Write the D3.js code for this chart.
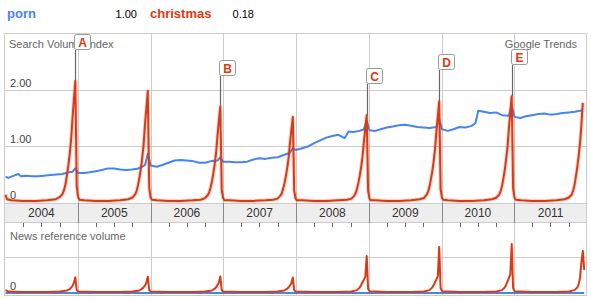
<!DOCTYPE html>
<html><head><meta charset="utf-8">
<script src="https://cdn.jsdelivr.net/npm/d3@7"></script>
<style>body{margin:0;background:#fff}svg{display:block;font-family:"Liberation Sans",Arial,sans-serif}</style>
</head><body>
<svg id="c" width="591" height="299"></svg>
<script>
// ---------- data ----------
const legendItems = [{name:"porn", value:"1.00"}, {name:"christmas", value:"0.18"}];
const yearLabels = ["2004","2005","2006","2007","2008","2009","2010","2011"];
const searchTicks = [1, 2];
const searchTickLabels = ["1.00","2.00"];

const pornSearch = [
["2004-01-04",0.45],["2004-01-18",0.43],["2004-02-15",0.47],["2004-03-07",0.50],["2004-03-21",0.46],["2004-04-15",0.47],["2004-05-15",0.46],["2004-06-15",0.46],["2004-07-15",0.47],["2004-08-15",0.48],["2004-09-15",0.49],["2004-10-15",0.50],["2004-11-15",0.53],["2004-12-05",0.54],["2004-12-19",0.60],
["2005-01-02",0.52],["2005-02-01",0.52],["2005-03-01",0.53],["2005-04-01",0.55],["2005-05-01",0.57],["2005-06-01",0.60],["2005-07-01",0.60],["2005-08-01",0.58],["2005-09-01",0.57],["2005-10-01",0.58],["2005-11-01",0.60],["2005-12-04",0.66],["2005-12-18",0.86],
["2006-01-01",0.65],["2006-02-01",0.63],["2006-03-01",0.66],["2006-04-01",0.70],["2006-05-01",0.74],["2006-06-01",0.75],["2006-07-01",0.74],["2006-08-01",0.73],["2006-09-01",0.70],["2006-10-01",0.70],["2006-11-01",0.73],["2006-12-03",0.74],["2006-12-17",0.80],["2006-12-31",0.72],
["2007-02-01",0.72],["2007-03-01",0.71],["2007-04-01",0.71],["2007-05-01",0.72],["2007-06-01",0.76],["2007-07-01",0.78],["2007-08-01",0.77],["2007-09-01",0.79],["2007-10-01",0.80],["2007-11-01",0.84],["2007-12-02",0.88],["2007-12-16",0.96],["2007-12-30",0.93],
["2008-02-01",0.96],["2008-03-01",0.99],["2008-04-01",1.05],["2008-05-01",1.10],["2008-06-01",1.15],["2008-07-01",1.18],["2008-08-01",1.20],["2008-09-01",1.14],["2008-09-21",1.26],["2008-10-15",1.25],["2008-11-15",1.27],["2008-12-07",1.30],["2008-12-21",1.45],
["2009-01-04",1.28],["2009-02-01",1.27],["2009-03-01",1.30],["2009-04-01",1.33],["2009-05-01",1.35],["2009-06-01",1.37],["2009-07-01",1.38],["2009-08-01",1.36],["2009-09-01",1.34],["2009-10-01",1.33],["2009-11-01",1.32],["2009-12-06",1.34],["2009-12-20",1.48],
["2010-01-03",1.30],["2010-02-01",1.27],["2010-03-01",1.30],["2010-04-01",1.34],["2010-05-01",1.33],["2010-06-01",1.36],["2010-06-20",1.41],["2010-07-04",1.63],["2010-08-01",1.61],["2010-09-01",1.59],["2010-10-01",1.60],["2010-11-01",1.55],["2010-12-05",1.54],["2010-12-19",1.73],
["2011-01-02",1.52],["2011-02-01",1.50],["2011-03-01",1.53],["2011-04-01",1.55],["2011-05-01",1.57],["2011-06-01",1.58],["2011-07-01",1.56],["2011-08-01",1.57],["2011-09-01",1.59],["2011-10-01",1.60],["2011-11-01",1.61],["2011-12-11",1.64]
];

const christmasSearch = [
["2004-01-04",0.13],["2004-01-11",0.05],["2004-02-01",0.03],["2004-04-01",0.02],["2004-06-01",0.02],["2004-08-01",0.03],
["2004-09-12",0.05],["2004-10-03",0.09],["2004-10-17",0.15],["2004-10-24",0.22],["2004-10-31",0.32],["2004-11-07",0.48],["2004-11-14",0.65],["2004-11-21",0.86],["2004-11-28",1.12],["2004-12-05",1.50],["2004-12-12",1.84],["2004-12-19",2.16],["2004-12-26",0.28],
["2005-01-02",0.09],["2005-01-09",0.04],["2005-02-01",0.03],["2005-04-01",0.02],["2005-06-01",0.02],["2005-08-01",0.03],
["2005-09-11",0.05],["2005-10-02",0.08],["2005-10-16",0.14],["2005-10-23",0.20],["2005-10-30",0.30],["2005-11-06",0.44],["2005-11-13",0.59],["2005-11-20",0.79],["2005-11-27",1.03],["2005-12-04",1.39],["2005-12-11",1.68],["2005-12-18",1.98],["2005-12-25",0.26],
["2006-01-01",0.08],["2006-01-08",0.04],["2006-02-01",0.03],["2006-04-01",0.02],["2006-06-01",0.02],["2006-08-01",0.03],
["2006-09-10",0.04],["2006-10-01",0.07],["2006-10-15",0.12],["2006-10-22",0.17],["2006-10-29",0.26],["2006-11-05",0.37],["2006-11-12",0.51],["2006-11-19",0.68],["2006-11-26",0.88],["2006-12-03",1.19],["2006-12-10",1.45],["2006-12-17",1.70],["2006-12-24",0.22],
["2006-12-31",0.07],["2007-01-07",0.03],["2007-02-01",0.03],["2007-04-01",0.02],["2007-06-01",0.02],["2007-08-01",0.03],
["2007-09-09",0.04],["2007-09-30",0.06],["2007-10-14",0.11],["2007-10-21",0.15],["2007-10-28",0.23],["2007-11-04",0.33],["2007-11-11",0.46],["2007-11-18",0.61],["2007-11-25",0.79],["2007-12-02",1.06],["2007-12-09",1.29],["2007-12-16",1.52],["2007-12-23",0.20],
["2007-12-30",0.06],["2008-01-06",0.03],["2008-02-01",0.03],["2008-04-01",0.02],["2008-06-01",0.02],["2008-08-01",0.03],
["2008-09-14",0.04],["2008-10-05",0.06],["2008-10-19",0.11],["2008-10-26",0.16],["2008-11-02",0.23],["2008-11-09",0.34],["2008-11-16",0.47],["2008-11-23",0.62],["2008-11-30",0.81],["2008-12-07",1.08],["2008-12-14",1.32],["2008-12-21",1.55],["2008-12-28",0.20],
["2009-01-04",0.06],["2009-01-11",0.03],["2009-02-01",0.03],["2009-04-01",0.02],["2009-06-01",0.02],["2009-08-01",0.03],
["2009-09-13",0.05],["2009-10-04",0.07],["2009-10-18",0.13],["2009-10-25",0.18],["2009-11-01",0.27],["2009-11-08",0.40],["2009-11-15",0.54],["2009-11-22",0.72],["2009-11-29",0.94],["2009-12-06",1.26],["2009-12-13",1.53],["2009-12-20",1.80],["2009-12-27",0.23],
["2010-01-03",0.07],["2010-01-10",0.04],["2010-02-01",0.03],["2010-04-01",0.02],["2010-06-01",0.02],["2010-08-01",0.03],
["2010-09-12",0.05],["2010-10-03",0.08],["2010-10-17",0.13],["2010-10-24",0.19],["2010-10-31",0.28],["2010-11-07",0.42],["2010-11-14",0.57],["2010-11-21",0.76],["2010-11-28",0.98],["2010-12-05",1.32],["2010-12-12",1.61],["2010-12-19",1.89],["2010-12-26",0.25],
["2011-01-02",0.08],["2011-01-09",0.04],["2011-02-01",0.03],["2011-04-01",0.02],["2011-06-01",0.02],["2011-08-01",0.03],
["2011-09-11",0.05],["2011-10-02",0.08],["2011-10-16",0.13],["2011-10-23",0.20],["2011-10-30",0.30],["2011-11-06",0.45],["2011-11-13",0.62],["2011-11-20",0.82],["2011-11-27",1.05],["2011-12-04",1.38],["2011-12-11",1.77]
];

const pornNews = [["2004-01-04",0],["2011-12-18",0]];

const christmasNews = [
["2004-01-04",0.08],["2004-01-18",0.04],["2004-04-01",0.03],["2004-08-01",0.03],["2004-10-03",0.04],["2004-11-07",0.07],["2004-11-21",0.11],["2004-11-28",0.15],["2004-12-05",0.20],["2004-12-12",0.28],["2004-12-19",0.44],["2004-12-26",0.08],
["2005-01-02",0.04],["2005-04-01",0.03],["2005-08-01",0.03],["2005-10-02",0.04],["2005-11-06",0.07],["2005-11-20",0.12],["2005-11-27",0.16],["2005-12-04",0.21],["2005-12-11",0.29],["2005-12-18",0.45],["2005-12-25",0.08],
["2006-01-01",0.04],["2006-04-01",0.03],["2006-08-01",0.03],["2006-10-01",0.04],["2006-11-05",0.07],["2006-11-19",0.12],["2006-11-26",0.16],["2006-12-03",0.22],["2006-12-10",0.30],["2006-12-17",0.46],["2006-12-24",0.08],
["2006-12-31",0.04],["2007-04-01",0.03],["2007-08-01",0.03],["2007-09-30",0.04],["2007-11-04",0.07],["2007-11-18",0.12],["2007-11-25",0.16],["2007-12-02",0.21],["2007-12-09",0.28],["2007-12-16",0.43],["2007-12-23",0.08],
["2007-12-30",0.04],["2008-04-01",0.03],["2008-08-01",0.03],["2008-10-05",0.04],["2008-11-02",0.08],["2008-11-16",0.15],["2008-11-23",0.22],["2008-11-30",0.30],["2008-12-07",0.37],["2008-12-14",0.45],["2008-12-21",1.03],["2008-12-28",0.12],
["2009-01-04",0.05],["2009-04-01",0.03],["2009-08-01",0.03],["2009-10-04",0.04],["2009-11-01",0.08],["2009-11-15",0.15],["2009-11-22",0.22],["2009-11-29",0.30],["2009-12-06",0.38],["2009-12-13",0.46],["2009-12-20",1.28],["2009-12-27",0.14],
["2010-01-03",0.05],["2010-04-01",0.03],["2010-08-01",0.03],["2010-10-03",0.04],["2010-10-31",0.08],["2010-11-14",0.15],["2010-11-21",0.23],["2010-11-28",0.32],["2010-12-05",0.42],["2010-12-12",0.52],["2010-12-19",1.36],["2010-12-26",0.14],
["2011-01-02",0.05],["2011-04-01",0.03],["2011-08-01",0.03],["2011-10-02",0.04],["2011-10-30",0.08],["2011-11-13",0.15],["2011-11-20",0.24],["2011-11-27",0.42],["2011-12-04",0.86],["2011-12-11",1.17],["2011-12-18",0.64]
];

const flagLabels = ["A","B","C","D","E"];
const flagDates = ["2004-12-19","2006-12-17","2008-12-21","2009-12-20","2010-12-19"];

// ---------- drawing ----------
const BLUE = "#4684ee", RED = "#dc3912";
const parse = d3.utcParse("%Y-%m-%d");
const svg = d3.select("#c");
const F = "'Liberation Sans', Arial, sans-serif";

const L = 4.5, R = 586.5, T = 33.5, B = 295.5;
const bandTop = 203, bandBot = 222;

const x = d3.scaleUtc().domain([Date.UTC(2004,0,1), Date.UTC(2012,0,1)]).range([5, 587]);
const yS = d3.scaleLinear().domain([0, 2]).range([202, 90]);
const yN = d3.scaleLinear().domain([0, 1]).range([293, 257]);

// legend
const lg = svg.append("g").attr("font-family", F);
lg.append("text").attr("x", 7).attr("y", 18).attr("font-size", 13).attr("font-weight", "bold").attr("fill", BLUE).text(legendItems[0].name);
lg.append("text").attr("x", 137).attr("y", 18).attr("text-anchor","end").attr("font-size", 11).attr("fill", "#000").text(legendItems[0].value);
lg.append("text").attr("x", 150).attr("y", 18).attr("font-size", 13).attr("font-weight", "bold").attr("fill", RED).text(legendItems[1].name);
lg.append("text").attr("x", 254).attr("y", 18).attr("text-anchor","end").attr("font-size", 11).attr("fill", "#000").text(legendItems[1].value);

// band
svg.append("rect").attr("x", L).attr("y", bandTop).attr("width", R - L).attr("height", bandBot - bandTop).attr("fill", "#eeeeee");
svg.append("line").attr("x1", L).attr("x2", R).attr("y1", bandTop + 0.5).attr("y2", bandTop + 0.5).attr("stroke", "#ccc");
svg.append("line").attr("x1", L).attr("x2", R).attr("y1", bandBot + 0.5).attr("y2", bandBot + 0.5).attr("stroke", "#ccc");

// horizontal grid
searchTicks.forEach(v => {
  svg.append("line").attr("x1", L).attr("x2", R).attr("y1", Math.round(yS(v)) + 0.5).attr("y2", Math.round(yS(v)) + 0.5).attr("stroke", "#ccc");
});
svg.append("line").attr("x1", L).attr("x2", R).attr("y1", Math.round(yN(1)) + 0.5).attr("y2", Math.round(yN(1)) + 0.5).attr("stroke", "#ccc");

// vertical year lines
const yearStarts = yearLabels.map(y => Date.UTC(+y, 0, 1));
yearStarts.slice(1).forEach(d => {
  const xx = Math.round(x(d)) + 0.5;
  svg.append("line").attr("x1", xx).attr("x2", xx).attr("y1", T).attr("y2", bandTop).attr("stroke", "#ccc");
  svg.append("line").attr("x1", xx).attr("x2", xx).attr("y1", bandTop).attr("y2", bandBot + 1).attr("stroke", "#888");
  svg.append("line").attr("x1", xx).attr("x2", xx).attr("y1", bandBot + 1).attr("y2", B).attr("stroke", "#ccc");
});

// quarter ticks
const quarters = [];
yearLabels.forEach(y => [3, 6, 9].forEach(m => quarters.push(Date.UTC(+y, m, 1))));
quarters.forEach(d => {
  const xx = Math.round(x(d)) + 0.5;
  svg.append("line").attr("x1", xx).attr("x2", xx).attr("y1", bandBot + 1).attr("y2", bandBot + 5).attr("stroke", "#666");
});

// year labels
yearLabels.forEach((y, i) => {
  const mid = (x(Date.UTC(+y, 0, 1)) + x(Date.UTC(+y + 1, 0, 1))) / 2;
  svg.append("text").attr("x", mid).attr("y", 217).attr("text-anchor", "middle").attr("font-family", F).attr("font-size", 12).attr("fill", "#333").text(y);
});

// outer border
svg.append("rect").attr("x", L).attr("y", T).attr("width", R - L).attr("height", B - T).attr("fill", "none").attr("stroke", "#ccc");

// texts
const tg = svg.append("g").attr("font-family", F).attr("font-size", 11).attr("fill", "#666");
tg.append("text").attr("x", 9).attr("y", 48).text("Search Volume Index");
tg.append("text").attr("x", 577).attr("y", 48).attr("text-anchor", "end").text("Google Trends");
tg.append("text").attr("x", 10).attr("y", 240).text("News reference volume");
searchTicks.forEach((v, i) => {
  svg.append("text").attr("x", 10).attr("y", Math.round(yS(v)) - 3).attr("font-family", F).attr("font-size", 11).attr("fill", "#444").text(searchTickLabels[i]);
});
svg.append("text").attr("x", 10).attr("y", 199).attr("font-family", F).attr("font-size", 11).attr("fill", "#444").text("0");
svg.append("text").attr("x", 10).attr("y", 290).attr("font-family", F).attr("font-size", 11).attr("fill", "#444").text("0");

// clips
svg.append("clipPath").attr("id", "cs").append("rect").attr("x", L).attr("y", T).attr("width", R - L).attr("height", bandTop - T);
svg.append("clipPath").attr("id", "cn").append("rect").attr("x", L).attr("y", bandBot + 1).attr("width", R - L).attr("height", B - bandBot);

const lineS = d3.line().x(d => x(parse(d[0]))).y(d => yS(d[1]));
const lineN = d3.line().x(d => x(parse(d[0]))).y(d => yN(d[1]));

const gs = svg.append("g").attr("clip-path", "url(#cs)");
gs.append("path").attr("d", lineS(pornSearch)).attr("fill", "none").attr("stroke", BLUE).attr("stroke-width", 2).attr("stroke-linejoin", "round");
gs.append("path").attr("d", lineS(christmasSearch)).attr("fill", "none").attr("stroke", RED).attr("stroke-opacity", 0.2).attr("stroke-width", 4).attr("stroke-linejoin", "round");
gs.append("path").attr("d", lineS(christmasSearch)).attr("fill", "none").attr("stroke", RED).attr("stroke-width", 2).attr("stroke-linejoin", "round");

const gn = svg.append("g").attr("clip-path", "url(#cn)");
gn.append("path").attr("d", lineN(pornNews)).attr("fill", "none").attr("stroke", BLUE).attr("stroke-width", 2);
gn.append("path").attr("d", lineN(christmasNews)).attr("fill", "none").attr("stroke", RED).attr("stroke-width", 2).attr("stroke-linejoin", "round");

// flags
const redMap = new Map(christmasSearch.map(d => [d[0], d[1]]));
flagLabels.forEach((lab, i) => {
  const px = Math.round(x(parse(flagDates[i])));
  const py = yS(redMap.get(flagDates[i]));
  const top = Math.round(py - 47);
  svg.append("line").attr("x1", px + 0.5).attr("x2", px + 0.5).attr("y1", top + 16).attr("y2", py).attr("stroke", "#666").attr("stroke-width", 1.2);
  svg.append("rect").attr("x", px - 0.5).attr("y", top + 0.5).attr("width", 16).attr("height", 15).attr("rx", 2)
     .attr("fill", "#fff").attr("stroke", "#999");
  svg.append("text").attr("x", px + 7.5).attr("y", top + 12.5).attr("text-anchor", "middle").attr("font-family", F)
     .attr("font-size", 12).attr("font-weight", "bold").attr("fill", RED).text(lab);
});
</script>
</body></html>
